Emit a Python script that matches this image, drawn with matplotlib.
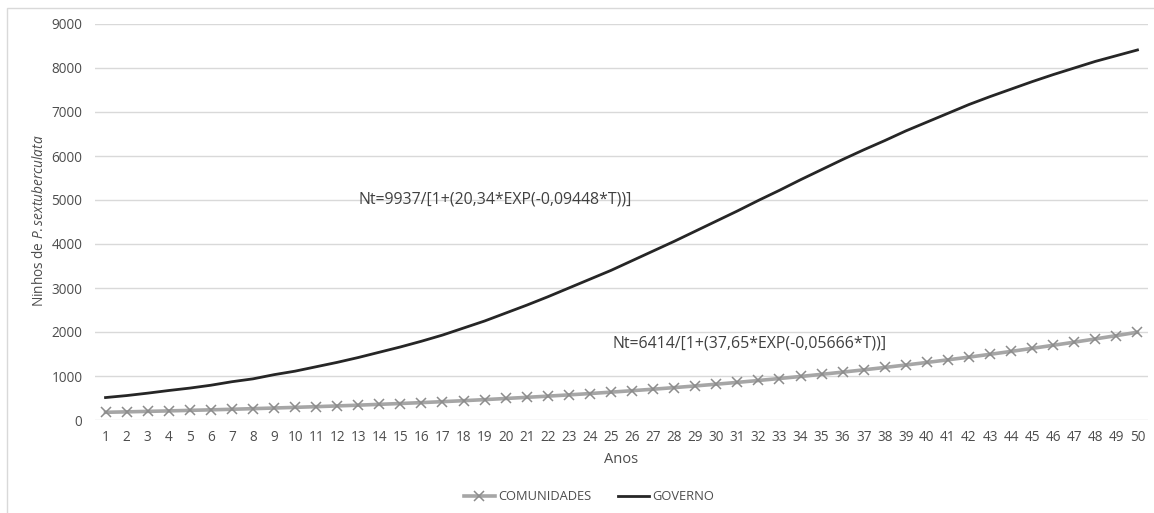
import matplotlib
matplotlib.use("Agg")
import matplotlib.pyplot as plt
from matplotlib.patches import Rectangle

plt.rcParams["font.family"] = ["Open Sans", "DejaVu Sans"]
plt.rcParams["mathtext.fontset"] = "custom"
plt.rcParams["mathtext.rm"] = "Open Sans"
plt.rcParams["mathtext.it"] = "Open Sans:italic"

anos = list(range(1, 51))

comunidades = [175, 185, 196, 207, 219, 231, 244, 258, 272, 287,
               303, 320, 337, 356, 375, 395, 417, 439, 463, 489,
               515, 542, 571, 601, 633, 666, 700, 736, 774, 814,
               855, 898, 943, 989, 1038, 1088, 1140, 1194, 1250, 1308,
               1368, 1429, 1493, 1559, 1628, 1698, 1769, 1843, 1918, 1995]

governo = [510, 555, 610, 670, 725, 790, 870, 935, 1030, 1110,
           1210, 1310, 1420, 1540, 1660, 1790, 1930, 2090, 2250, 2430,
           2610, 2800, 3000, 3200, 3400, 3620, 3840, 4060, 4290, 4520,
           4750, 4990, 5220, 5460, 5690, 5920, 6140, 6350, 6570, 6770,
           6970, 7170, 7350, 7520, 7690, 7850, 8000, 8150, 8280, 8410]

y_ticks = [0, 1000, 2000, 3000, 4000, 5000, 6000, 7000, 8000, 9000]

eq_governo = "Nt=9937/[1+(20,34*EXP(-0,09448*T))]"
eq_comunidades = "Nt=6414/[1+(37,65*EXP(-0,05666*T))]"

W, H = 1154, 513
fig = plt.figure(figsize=(W / 100, H / 100), dpi=100)

# chart-area frame
fig.patches.append(Rectangle((7 / W, -0.05), 1.2, 1 - 8 / H + 0.05,
                             transform=fig.transFigure, fill=False,
                             edgecolor="#d9d9d9", linewidth=1.0))

ax = fig.add_axes([95 / W, 1 - 420 / H, (1148 - 95) / W, (420 - 24) / H])

txt = "#4d4d4d"
ax.plot(anos, comunidades, color="#a6a6a6", linewidth=2.6, marker="x",
        markersize=7, markeredgecolor="#8c8c8c", markeredgewidth=1.1,
        label="COMUNIDADES", zorder=3)
ax.plot(anos, governo, color="#262626", linewidth=2.0,
        label="GOVERNO", zorder=4)

ax.set_xlim(0.5, 50.5)
ax.set_ylim(0, 9000)
ax.set_yticks(y_ticks)
ax.set_xticks(anos)
ax.set_xticklabels([str(a) for a in anos])
ax.yaxis.grid(True, color="#d9d9d9", linewidth=1.0)
ax.set_axisbelow(True)
for s in ax.spines.values():
    s.set_visible(False)
ax.tick_params(axis="both", length=0, labelsize=9.8, colors=txt)
ax.tick_params(axis="x", pad=7.5)
ax.tick_params(axis="y", pad=9)

ax.set_xlabel("Anos", fontsize=10.5, color=txt, labelpad=5)
ax.set_ylabel(r"Ninhos de $\it{P.sextuberculata}$", fontsize=9.8,
              color=txt, va="center")
ax.yaxis.set_label_coords(40 / W, 1 - 221 / H, transform=fig.transFigure)

ax.annotate(eq_governo, xy=(358 / W, 1 - 200 / H), xycoords="figure fraction",
            fontsize=11.4, color="#404040", va="center", ha="left")
ax.annotate(eq_comunidades, xy=(612 / W, 1 - 343 / H), xycoords="figure fraction",
            fontsize=11.4, color="#404040", va="center", ha="left")

leg = fig.legend(loc="center", bbox_to_anchor=(589 / W, 1 - 497 / H), ncol=2,
                 frameon=False, fontsize=9.3, handlelength=2.4,
                 columnspacing=2.0, handletextpad=0.3)
for t in leg.get_texts():
    t.set_color(txt)

fig.savefig("out.png", dpi=100, facecolor="white")
